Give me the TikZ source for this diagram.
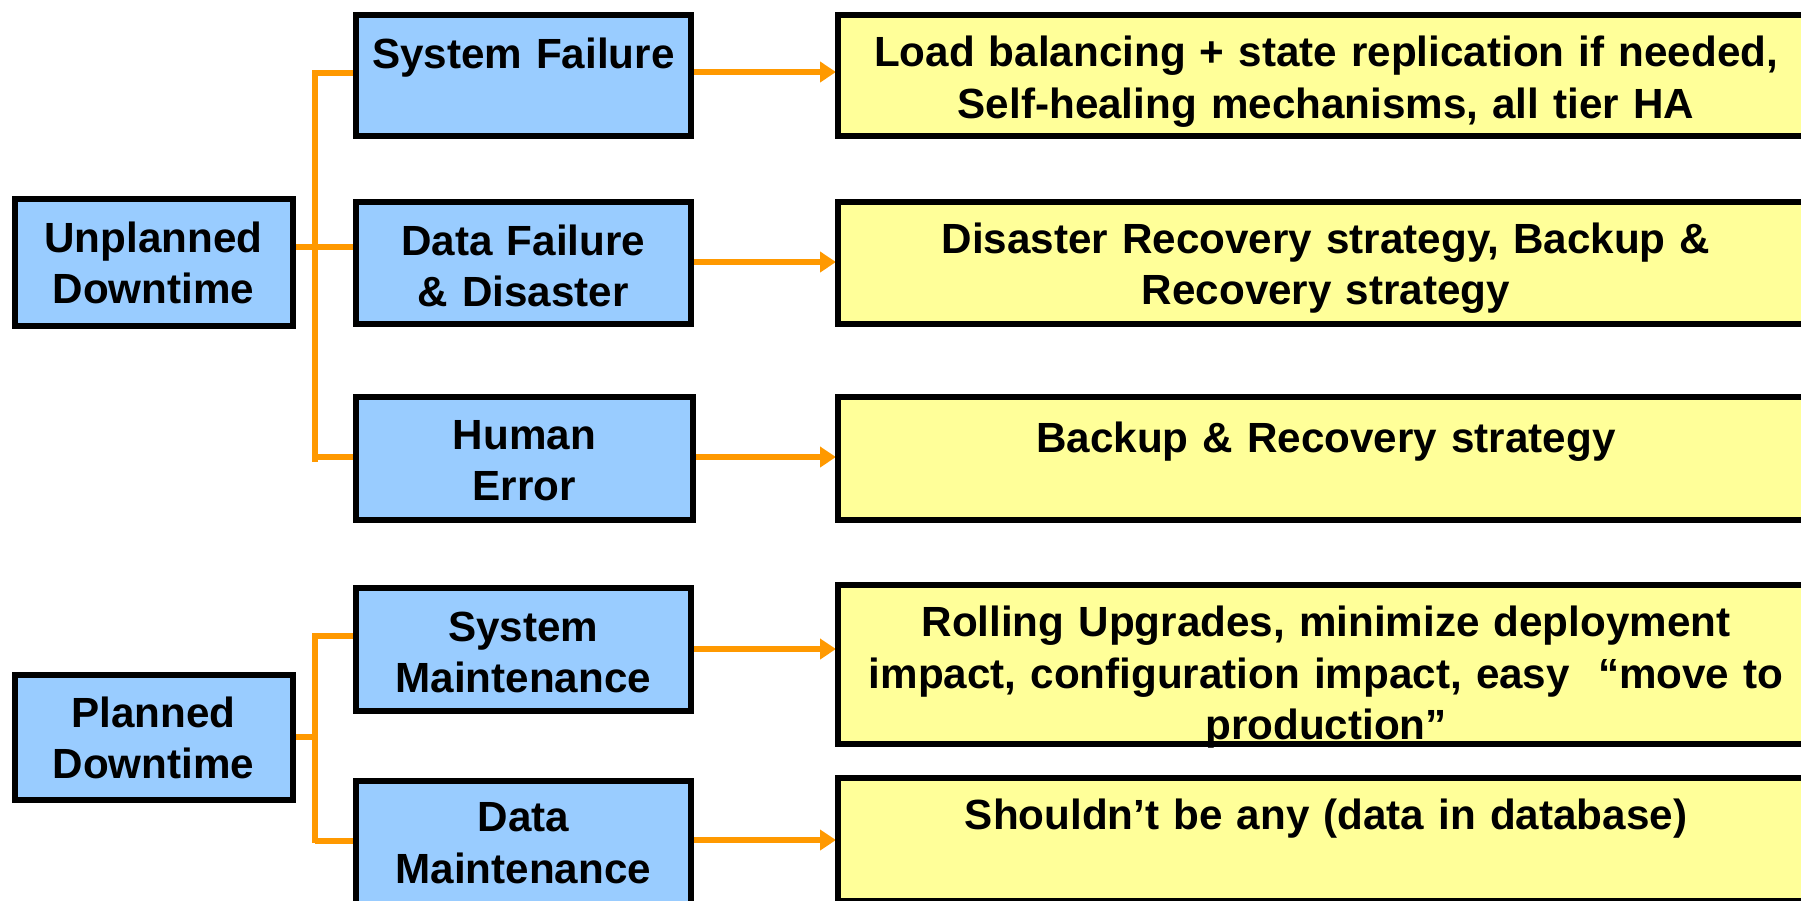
\documentclass[tikz,border=0pt]{standalone}
\usepackage{fontspec}
\setmainfont{Liberation Sans}
\usetikzlibrary{arrows.meta,backgrounds}
\definecolor{boxblue}{HTML}{99CCFF}
\definecolor{boxyellow}{HTML}{FFFF99}
\definecolor{connorange}{HTML}{FF9900}
\tikzset{
  bluebox/.style={draw=black, line width=6pt, fill=boxblue, inner sep=0pt, outer sep=0pt},
  yellowbox/.style={draw=black, line width=6pt, fill=boxyellow, inner sep=0pt, outer sep=0pt},
  boxtext/.style={anchor=base, inner sep=0pt, align=center, font=\fontsize{42.2}{51.6}\selectfont\bfseries},
  bluetext/.style={boxtext, text width=330pt},
  yellowtext/.style={boxtext, text width=970pt},
  conn/.style={draw=connorange, line width=5.5pt, line join=miter},
  arr/.style={conn, shorten >=2pt, -{Triangle[length=16pt,width=20pt]}},
}
\begin{document}
\begin{tikzpicture}[x=1pt,y=-1pt]
\useasboundingbox (0,0) rectangle (1801,900);
\clip (0,0) rectangle (1801,900);
% left category boxes
\node[bluebox, minimum width=278pt, minimum height=126.5pt] (UP) at (153.5,262.25) {};
\node[bluebox, minimum width=278pt, minimum height=125pt] (PL) at (153.5,737.5) {};
% middle boxes
\node[bluebox, minimum width=335.4pt, minimum height=121.5pt] (SF) at (523.3,75.25) {};
\node[bluebox, minimum width=335.4pt, minimum height=122.3pt] (DF) at (523.3,262.85) {};
\node[bluebox, minimum width=337.4pt, minimum height=122.6pt] (HE) at (524.3,458.3) {};
\node[bluebox, minimum width=335.4pt, minimum height=123.4pt] (SM) at (523.3,649.3) {};
\node[bluebox, minimum width=335.4pt, minimum height=154.4pt] (DM) at (523.3,857.8) {};
% right boxes
\node[yellowbox, minimum width=976pt, minimum height=121.5pt] (Y1) at (1326,75.25) {};
\node[yellowbox, minimum width=976pt, minimum height=122.3pt] (Y2) at (1326,262.85) {};
\node[yellowbox, minimum width=976pt, minimum height=122.6pt] (Y3) at (1326,458.3) {};
\node[yellowbox, minimum width=976pt, minimum height=158.6pt] (Y4) at (1326,664.3) {};
\node[yellowbox, minimum width=976pt, minimum height=122.5pt] (Y5) at (1326,839.25) {};
% texts
\node[bluetext, text width=270pt] (tUP) at (153.5,252) {Unplanned\\Downtime};
\node[bluetext, text width=270pt] (tPL) at (153.5,727.3) {Planned\\Downtime};
\node[bluetext] (tSF) at (523.3,68.3) {System Failure};
\node[bluetext] (tDF) at (523.3,255) {Data Failure\\\& Disaster};
\node[bluetext] (tHE) at (524.3,449) {Human\\Error};
\node[bluetext] (tSM) at (523.3,641) {System\\Maintenance};
\node[bluetext] (tDM) at (523.3,831.7) {Data\\Maintenance};
\node[yellowtext] (tY1) at (1326,66.7) {Load balancing + state replication if needed,\\Self-healing mechanisms, all tier HA};
\node[yellowtext] (tY2) at (1326,253) {Disaster Recovery strategy, Backup \&\\Recovery strategy};
\node[yellowtext] (tY3) at (1326,452) {Backup \& Recovery strategy};
\node[yellowtext] (tY4) at (1326,636.7) {Rolling Upgrades, minimize deployment\\impact, configuration impact, easy ~“move to\\production”};
\node[yellowtext] (tY5) at (1326,829) {Shouldn’t be any (data in database)};
% connectors
\coordinate (ua) at (315,73);
\coordinate (ub) at (315,462);
\coordinate (uc) at (315,457);
\coordinate (ud) at (315,247);
\coordinate (pa) at (315,636);
\coordinate (pb) at (315,843);
\coordinate (pc) at (315,841);
\coordinate (pd) at (315,737);
\coordinate (a1) at (760,72);
\coordinate (a2) at (760,262);
\coordinate (a3) at (760,457);
\coordinate (a4) at (760,649);
\coordinate (a5) at (760,840);
\begin{scope}[on background layer]
\draw[conn] (SF.west |- ua) -- (ua) -- (ub);
\draw[conn] (uc) -- (HE.west |- uc);
\draw[conn] (UP.east |- ud) -- (DF.west |- ud);
\draw[conn] (SM.west |- pa) -- (pa) -- (pb);
\draw[conn] (pc) -- (DM.west |- pc);
\draw[conn] (PL.east |- pd) -- (pd);
\draw[arr] (SF.east |- a1) -- (Y1.west |- a1);
\draw[arr] (DF.east |- a2) -- (Y2.west |- a2);
\draw[arr] (HE.east |- a3) -- (Y3.west |- a3);
\draw[arr] (SM.east |- a4) -- (Y4.west |- a4);
\draw[arr] (DM.east |- a5) -- (Y5.west |- a5);
\end{scope}
\end{tikzpicture}
\end{document}
